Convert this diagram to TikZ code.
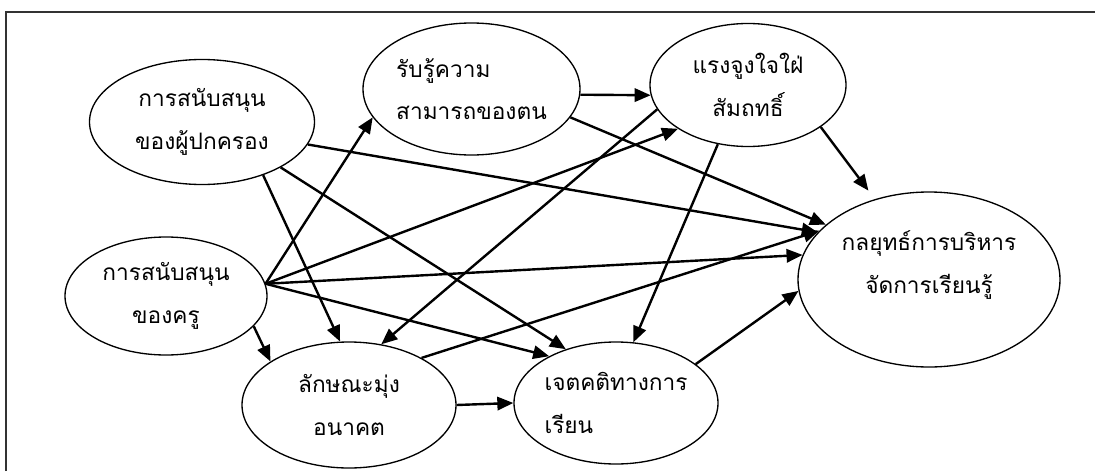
\documentclass[tikz,border=0pt]{standalone}
\usepackage{fontspec}
\newfontfamily\thaifont[Script=Thai]{Loma}
\usetikzlibrary{shapes.geometric,arrows.meta,positioning}
\tikzset{var node/.style={ellipse,draw,line width=1pt,inner sep=0pt,align=center,font=\thaifont\fontsize{17}{32}\selectfont},
         path arrow/.style={-{Triangle[length=12pt,width=10pt]},line width=1.8pt},
         frame line/.style={line width=1.4pt,black!80},
}
\begin{document}
\begin{tikzpicture}[x=0.75pt,y=-0.75pt]
\useasboundingbox (0,0) rectangle (1095,471);
\draw[frame line] (6.3,471) -- (6.3,11.6) -- (1095,11.6);
% variables
\node[var node,minimum width=168.75pt,minimum height=93.75pt] (P) at (202,122) {การสนับสนุน\\ของผู้ปกครอง};
\node[var node,align=left,minimum width=162.75pt,minimum height=99pt] (E) at (471.5,89) {รับรู้ความ\\สามารถของตน};
\node[var node,minimum width=147pt,minimum height=92.25pt] (M) at (748,85) {แรงจูงใจใฝ่\\สัมถทธิ์};
\node[var node,text depth=26pt,minimum width=196.5pt,minimum height=131.25pt] (S) at (929,279.5) {กลยุทธ์การบริหาร\\จัดการเรียนรู้};
\node[var node,minimum width=151.5pt,minimum height=88.5pt] (T) at (166,296) {การสนับสนุน\\ของครู};
\node[var node,minimum width=160.5pt,minimum height=94.5pt] (F) at (349,405) {ลักษณะมุ่ง\\อนาคต};
\node[var node,align=left,minimum width=153pt,minimum height=91.5pt] (A) at (616,403) {เจตคติทางการ\\เรียน};
% paths
\draw[path arrow] (P.-12.8) -- (S.157);
\draw[path arrow] (P.-41.6) -- (F.98.4);
\draw[path arrow] (P.-30.3) -- (A.133.4);
\draw[path arrow] (E.-3) -- (M.186);
\draw[path arrow] (E.-16.5) -- (S.152.6);
\draw[path arrow] (M.195.4) -- (F.62.1);
\draw[path arrow] (M.243.4) -- (A.74.7);
\draw[path arrow,shorten >=8pt] (M.-30.8) -- (S.124.5);
\draw[path arrow] (T.7) -- (E.196.7);
\draw[path arrow] (T.7) -- (M.212);
\draw[path arrow] (T.7) -- (S.169);
\draw[path arrow] (T.7) -- (A.145.3);
\draw[path arrow] (T.-19.8) -- (F.151.5);
\draw[path arrow] (F.east) -- (A.west);
\draw[path arrow] (F.33.5) -- (S.156);
\draw[path arrow] (A.26) -- (S.185.9);
\end{tikzpicture}
\end{document}
